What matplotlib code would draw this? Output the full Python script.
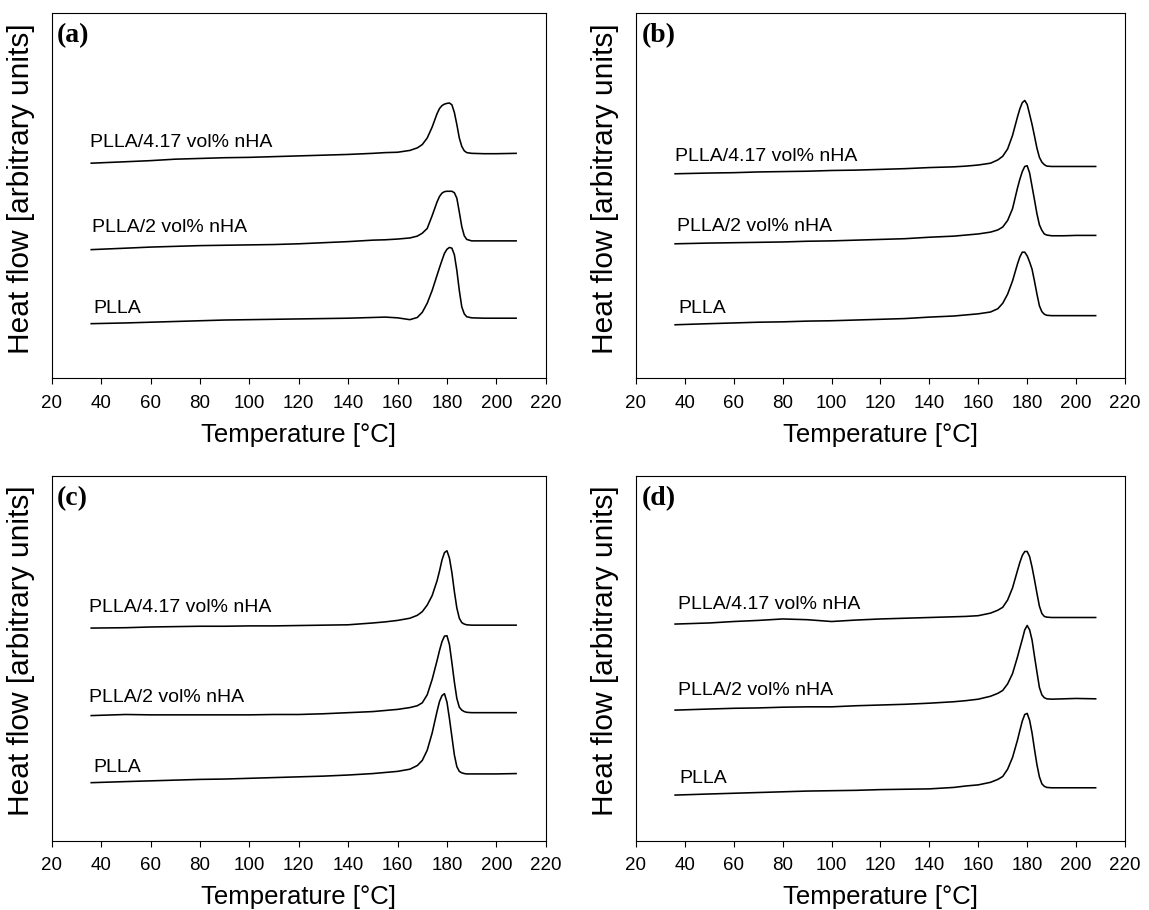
import numpy as np
import matplotlib
matplotlib.use('Agg')
import matplotlib.pyplot as plt

plt.rcParams['font.family'] = ['Liberation Sans', 'DejaVu Sans']

# temperature points (deg C), shared by all DSC traces
temp = [36, 50, 60, 70, 80, 90, 100, 110, 120, 130, 140, 150, 155, 160, 165, 168,
        170, 172, 174, 176, 177, 178, 179, 180, 181, 182, 183, 184, 185, 186, 187,
        188, 190, 195, 200, 208]

# heat flow, arbitrary units (curves already offset vertically)
a_417 = [58.9, 59.3, 59.6, 60.0, 60.2, 60.4, 60.5, 60.7, 60.9, 61.1, 61.3, 61.6, 61.8, 61.9,
         62.4, 63.1, 64.0, 65.8, 68.8, 72.5, 73.9, 74.7, 75.1, 75.3, 75.4, 74.9, 72.8, 69.5,
         65.8, 63.5, 62.3, 61.8, 61.6, 61.5, 61.5, 61.6]
a_2 = [35.2, 35.6, 35.9, 36.1, 36.3, 36.4, 36.5, 36.6, 36.8, 37.1, 37.4, 37.8, 37.9, 38.1,
       38.4, 38.9, 39.7, 41.0, 44.5, 48.3, 49.8, 50.7, 51.1, 51.2, 51.2, 51.2, 50.8, 49.3,
       45.5, 41.5, 39.0, 38.0, 37.6, 37.6, 37.6, 37.6]
a_plla = [14.9, 15.1, 15.3, 15.5, 15.7, 15.9, 16.0, 16.1, 16.2, 16.3, 16.4, 16.6, 16.7, 16.5,
          16.0, 16.6, 18.0, 20.5, 24.0, 28.2, 30.3, 32.3, 34.2, 35.3, 35.8, 35.6, 33.8, 29.5,
          24.0, 19.5, 17.6, 16.8, 16.5, 16.4, 16.4, 16.4]

b_417 = [56.0, 56.2, 56.3, 56.5, 56.6, 56.7, 56.9, 57.0, 57.2, 57.4, 57.7, 57.9, 58.1, 58.4,
         58.9, 59.8, 60.8, 62.8, 66.5, 71.5, 73.8, 75.5, 76.1, 75.0, 72.3, 69.5, 66.3, 63.0,
         60.5, 59.2, 58.5, 58.1, 58.0, 58.0, 58.0, 58.0]
b_2 = [36.8, 37.0, 37.1, 37.2, 37.3, 37.5, 37.6, 37.8, 38.0, 38.2, 38.6, 38.9, 39.2, 39.5,
       40.0, 40.6, 41.4, 43.2, 46.4, 52.0, 54.5, 56.6, 58.0, 58.2, 56.2, 52.5, 48.8, 45.0,
       42.0, 40.5, 39.5, 39.2, 39.0, 39.0, 39.1, 39.1]
b_plla = [14.6, 14.9, 15.1, 15.3, 15.4, 15.6, 15.7, 15.9, 16.1, 16.3, 16.7, 17.0, 17.3, 17.6,
          18.1, 19.0, 20.5, 23.0, 26.6, 31.2, 33.2, 34.5, 34.5, 33.5, 31.8, 29.8, 26.5, 23.0,
          19.8, 18.2, 17.5, 17.2, 17.1, 17.1, 17.1, 17.1]

c_417 = [58.3, 58.4, 58.6, 58.7, 58.8, 58.8, 58.9, 58.9, 59.0, 59.1, 59.2, 59.7, 60.0, 60.4,
         61.0, 61.8, 62.8, 64.6, 67.2, 71.3, 74.0, 77.0, 79.0, 79.5, 77.5, 73.5, 68.3, 63.8,
         61.0, 59.8, 59.4, 59.2, 59.1, 59.1, 59.1, 59.1]
c_2 = [34.3, 34.6, 34.5, 34.5, 34.5, 34.5, 34.5, 34.6, 34.6, 34.8, 35.1, 35.4, 35.7, 36.0,
       36.5, 37.0, 37.8, 40.0, 44.2, 49.4, 52.2, 54.6, 56.1, 56.2, 53.8, 48.8, 43.5, 39.0,
       36.6, 35.8, 35.4, 35.2, 35.1, 35.1, 35.1, 35.1]
c_plla = [15.9, 16.2, 16.4, 16.6, 16.8, 16.9, 17.1, 17.3, 17.5, 17.7, 18.0, 18.4, 18.7, 19.0,
          19.6, 20.6, 22.0, 24.8, 29.5, 35.5, 38.2, 39.8, 40.3, 38.0, 33.5, 28.5, 23.5, 20.3,
          19.0, 18.6, 18.4, 18.3, 18.3, 18.3, 18.3, 18.4]

d_417 = [59.4, 59.7, 60.1, 60.4, 60.8, 60.6, 60.1, 60.5, 60.8, 61.0, 61.2, 61.4, 61.5, 61.7,
         62.4, 63.2, 64.0, 66.0, 69.3, 74.0, 76.3, 78.2, 79.3, 79.3, 77.9, 75.0, 71.5, 67.8,
         64.3, 62.3, 61.5, 61.3, 61.2, 61.2, 61.2, 61.2]
d_2 = [35.8, 36.1, 36.3, 36.4, 36.6, 36.7, 36.7, 37.0, 37.2, 37.4, 37.7, 38.1, 38.4, 38.8,
       39.6, 40.4, 41.2, 43.0, 45.8, 50.3, 52.8, 55.2, 57.8, 59.0, 57.8, 55.0, 50.5, 46.2,
       42.0, 40.0, 39.2, 38.9, 38.8, 38.9, 39.0, 38.9]
d_plla = [12.5, 12.8, 13.0, 13.2, 13.4, 13.6, 13.7, 13.8, 14.0, 14.1, 14.2, 14.6, 15.0, 15.3,
          16.0, 16.8, 17.6, 19.6, 22.8, 27.5, 30.2, 32.8, 34.6, 34.9, 33.0, 29.5, 25.0, 20.8,
          17.5, 15.6, 14.9, 14.6, 14.5, 14.5, 14.5, 14.5]

sample_names = ['PLLA/4.17 vol% nHA', 'PLLA/2 vol% nHA', 'PLLA']
panel_tags = ['(a)', '(b)', '(c)', '(d)']
curves = [[a_417, a_2, a_plla], [b_417, b_2, b_plla],
          [c_417, c_2, c_plla], [d_417, d_2, d_plla]]
# where each sample name sits (temperature, heat flow)
label_x = [[35.5, 36.2, 36.8], [36.0, 36.9, 37.3], [35.2, 35.1, 36.9], [37.0, 37.0, 37.6]]
label_y = [[63.4, 39.9, 17.7], [59.4, 40.4, 17.8], [62.6, 37.9, 18.9], [63.4, 39.9, 15.7]]

fig = plt.figure(figsize=(11.49, 9.10), dpi=100)
rects = [[0.045, 0.5846, 0.430, 0.4008], [0.5535, 0.5846, 0.4256, 0.4008],
         [0.045, 0.0762, 0.430, 0.4007], [0.5535, 0.0762, 0.4256, 0.4007]]

for i in range(4):
    ax = fig.add_axes(rects[i])
    for j in range(3):
        ax.plot(temp, curves[i][j], color='black', lw=1.15)
        ax.text(label_x[i][j], label_y[i][j], sample_names[j], fontsize=14,
                ha='left', va='baseline')
    ax.text(0.011, 0.972, panel_tags[i], transform=ax.transAxes, ha='left', va='top',
            fontsize=20, fontweight='bold', family=['Liberation Serif', 'DejaVu Serif'])
    ax.set_xlim(20, 220)
    ax.set_ylim(0, 100)
    ax.set_xticks(np.arange(20, 221, 20))
    ax.set_yticks([])
    ax.tick_params(axis='x', direction='out', length=4, width=0.8, labelsize=13.5, pad=8)
    for s in ax.spines.values():
        s.set_linewidth(0.8)
    ax.set_xlabel('Temperature [°C]', fontsize=18.5, labelpad=8)
    ax.set_ylabel('Heat flow [arbitrary units]', fontsize=21.5)
    ax.yaxis.set_label_coords(-0.034, 0.52)

fig.savefig('out.png', dpi=100)
